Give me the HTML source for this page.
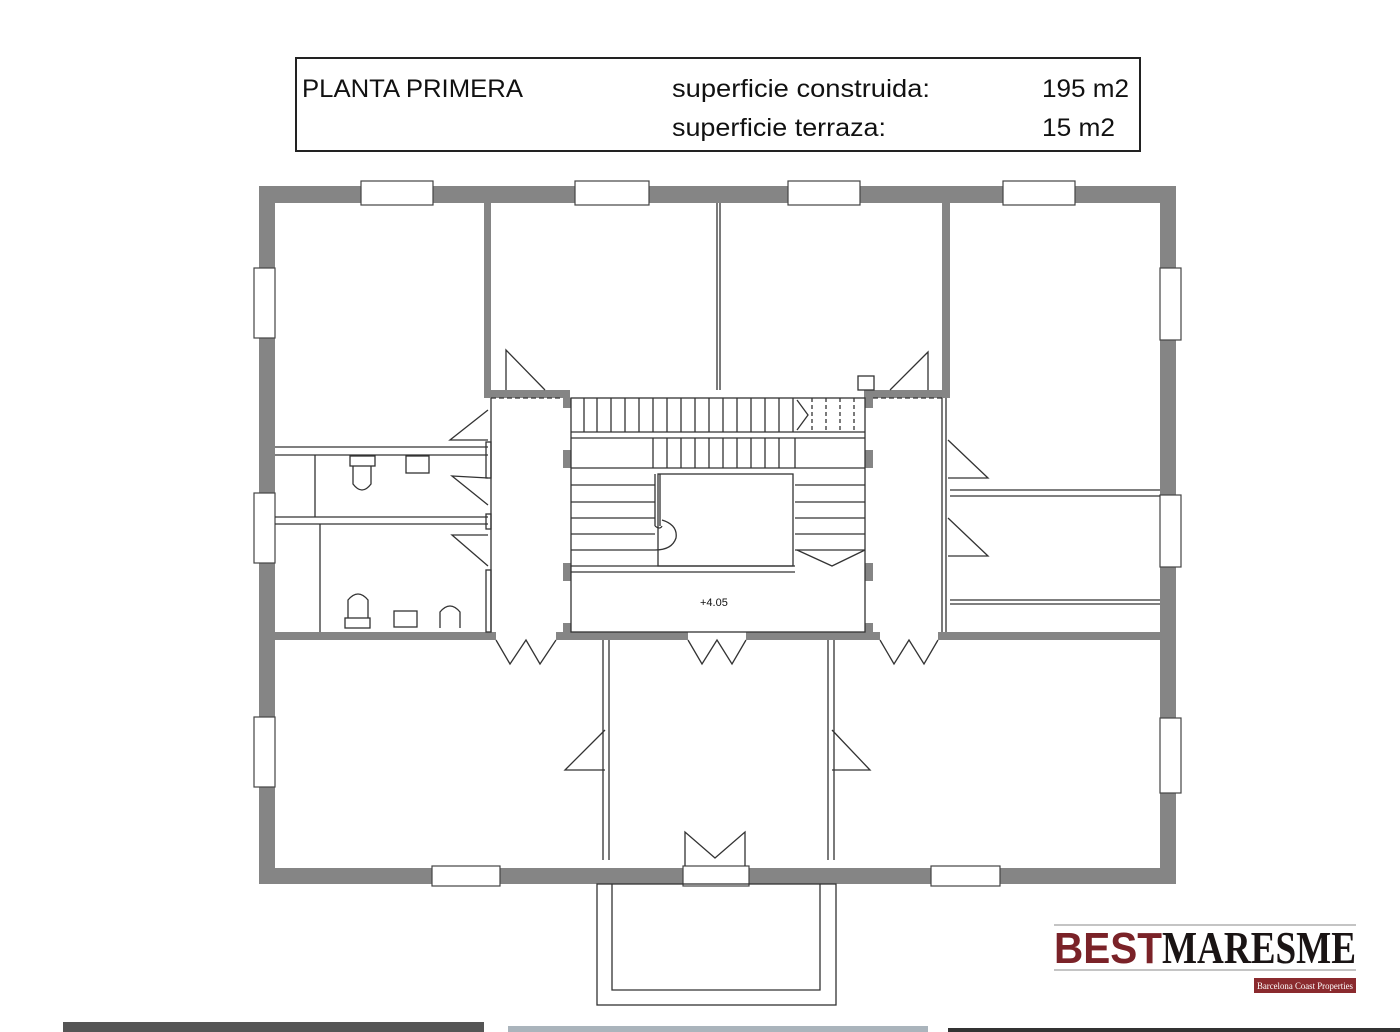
<!DOCTYPE html>
<html><head><meta charset="utf-8"><style>
body{margin:0;background:#fff;width:1400px;height:1032px;overflow:hidden;position:relative;font-family:"Liberation Sans",sans-serif}
</style></head><body>
<svg width="1400" height="1032" viewBox="0 0 1400 1032" xmlns="http://www.w3.org/2000/svg" style="position:absolute;left:0;top:0">
<rect x="296" y="58" width="844" height="93" fill="none" stroke="#222" stroke-width="2"/>
<g font-family="Liberation Sans, sans-serif" font-size="25" fill="#111" lengthAdjust="spacingAndGlyphs">
<text x="302" y="97" textLength="221" lengthAdjust="spacingAndGlyphs">PLANTA PRIMERA</text>
<text x="672" y="97" textLength="258" lengthAdjust="spacingAndGlyphs">superficie construida:</text>
<text x="1042" y="97" textLength="87" lengthAdjust="spacingAndGlyphs">195 m2</text>
<text x="672" y="136" textLength="214" lengthAdjust="spacingAndGlyphs">superficie terraza:</text>
<text x="1042" y="136" textLength="73" lengthAdjust="spacingAndGlyphs">15 m2</text>
</g>
<!-- outer walls -->
<g fill="#858585">
<rect x="259" y="186" width="917" height="17"/>
<rect x="259" y="868" width="917" height="16"/>
<rect x="259" y="186" width="16" height="698"/>
<rect x="1160" y="186" width="16" height="698"/>
<rect x="484" y="203" width="7" height="195"/>
<rect x="942" y="203" width="8" height="195"/>
<rect x="484" y="390" width="86" height="8"/>
<rect x="864" y="390" width="86" height="8"/>
<rect x="275" y="632" width="221" height="8"/>
<rect x="556" y="632" width="132" height="8"/>
<rect x="746" y="632" width="134" height="8"/>
<rect x="938" y="632" width="222" height="8"/>
<rect x="563" y="398" width="8" height="10"/>
<rect x="865" y="398" width="8" height="10"/>
<rect x="563" y="450" width="8" height="18"/>
<rect x="865" y="450" width="8" height="18"/>
<rect x="563" y="563" width="8" height="18"/>
<rect x="865" y="563" width="8" height="18"/>
<rect x="563" y="623" width="8" height="10"/>
<rect x="865" y="623" width="8" height="10"/>
</g>
<g fill="#fff" stroke="#444" stroke-width="1.2">
<rect x="361" y="181" width="72" height="24"/><rect x="575" y="181" width="74" height="24"/>
<rect x="788" y="181" width="72" height="24"/><rect x="1003" y="181" width="72" height="24"/>
<rect x="432" y="866" width="68" height="20"/><rect x="683" y="866" width="66" height="20"/><rect x="931" y="866" width="69" height="20"/>
<rect x="254" y="268" width="21" height="70"/><rect x="254" y="493" width="21" height="70"/><rect x="254" y="717" width="21" height="70"/>
<rect x="1160" y="268" width="21" height="72"/><rect x="1160" y="495" width="21" height="72"/><rect x="1160" y="718" width="21" height="75"/>
</g>
<g fill="none" stroke="#333" stroke-width="1.3">
<line x1="717" y1="203" x2="717" y2="390"/><line x1="720" y1="203" x2="720" y2="390"/>
<rect x="571" y="398" width="294" height="234"/>
<line x1="571" y1="432" x2="865" y2="432"/><line x1="571" y1="438" x2="865" y2="438"/>
<line x1="571" y1="468" x2="865" y2="468"/>
<line x1="571" y1="566" x2="795" y2="566"/><line x1="571" y1="572" x2="795" y2="572"/>
<rect x="658" y="474" width="135" height="92"/>
<path d="M655 474 V526 M660 474 V526 M655 526 Q660 530 662 526 M662 520 Q678 525 676 538 Q672 550 655 550 H571"/>
<path d="M571 485 H655 M571 502 H655 M571 518 H655 M571 534 H655 M795 485 H865 M795 502 H865 M795 518 H865 M795 534 H865 M795 550 H865"/>
<path d="M797 550 L832 566 L865 550"/>
<path d="M584 398 V432 M597 398V432 M611 398V432 M625 398V432 M639 398V432 M653 398V432 M667 398V432 M681 398V432 M695 398V432 M709 398V432 M723 398V432 M737 398V432 M751 398V432 M765 398V432 M779 398V432 M793 398V432"/>
<path d="M653 438V468 M667 438V468 M681 438V468 M695 438V468 M709 438V468 M723 438V468 M737 438V468 M751 438V468 M765 438V468 M779 438V468 M795 438V468"/>
<path d="M797 400 L808 415 L797 430" />
<path d="M812 398V432 M826 398V432 M840 398V432 M854 398V432" stroke-dasharray="4 3"/>
<line x1="491" y1="398" x2="491" y2="632"/><line x1="942" y1="398" x2="942" y2="632"/><line x1="946" y1="398" x2="946" y2="632"/>
<path d="M491 398 H563 M873 398 H942" stroke-dasharray="5 3"/>
<line x1="275" y1="447" x2="488" y2="447"/><line x1="275" y1="455" x2="488" y2="455"/>
<line x1="275" y1="517" x2="488" y2="517"/><line x1="275" y1="524" x2="488" y2="524"/>
<line x1="315" y1="455" x2="315" y2="517"/><line x1="320" y1="524" x2="320" y2="632"/>
<rect x="486" y="442" width="5" height="36"/><rect x="486" y="514" width="5" height="15"/><rect x="486" y="570" width="5" height="62"/>
<rect x="350" y="456" width="25" height="10"/><path d="M353 466 V484 Q362 496 371 484 V466"/>
<rect x="406" y="456" width="23" height="17"/>
<rect x="345" y="618" width="25" height="10"/><path d="M348 618 V600 Q358 588 368 600 V618"/>
<rect x="394" y="611" width="23" height="16"/>
<path d="M440 628 V612 Q450 600 460 612 V628"/>
<path d="M488 410 L450 440 H488 M488 478 L452 476 L488 505 M488 535 L452 535 L488 566"/>
<line x1="950" y1="490" x2="1160" y2="490"/><line x1="950" y1="496" x2="1160" y2="496"/>
<line x1="950" y1="600" x2="1160" y2="600"/><line x1="950" y1="604" x2="1160" y2="604"/>
<path d="M948 440 L988 478 H948 M948 518 L988 556 H948"/>
<path d="M506 390 V350 L545 390 M928 390 V352 L890 390"/>
<rect x="858" y="376" width="16" height="14"/>
<path d="M496 640 L510 664 L526 640 L540 664 L556 640 M688 640 L702 664 L717 640 L732 664 L746 640 M880 640 L894 664 L909 640 L924 664 L938 640"/>
<line x1="603" y1="640" x2="603" y2="860"/><line x1="609" y1="640" x2="609" y2="860"/>
<line x1="828" y1="640" x2="828" y2="860"/><line x1="834" y1="640" x2="834" y2="860"/>
<path d="M605 730 L565 770 H605 M832 730 L870 770 H832"/>
<path d="M685 866 V832 L715 858 L745 832 V866"/>
<rect x="597" y="884" width="239" height="121"/>
<path d="M612 884 V990 H820 V884"/>
</g>
<text x="700" y="606" font-family="Liberation Sans, sans-serif" font-size="11" fill="#111">+4.05</text>
<line x1="1054" y1="925" x2="1356" y2="925" stroke="#888" stroke-width="1"/>
<line x1="1054" y1="970" x2="1356" y2="970" stroke="#888" stroke-width="1"/>
<text x="1054" y="963" font-family="Liberation Sans, sans-serif" font-weight="bold" font-size="44" fill="#7a2228" textLength="108" lengthAdjust="spacingAndGlyphs">BEST</text>
<text x="1162" y="963" font-family="Liberation Serif, serif" font-weight="bold" font-size="46" fill="#1a1414" textLength="194" lengthAdjust="spacingAndGlyphs">MARESME</text>
<rect x="1254" y="978" width="102" height="15" fill="#8a2a2e"/>
<text x="1305" y="989" text-anchor="middle" font-family="Liberation Serif, serif" font-size="9" fill="#fff" textLength="96" lengthAdjust="spacingAndGlyphs">Barcelona Coast Properties</text>
<rect x="63" y="1022" width="421" height="10" fill="#555"/>
<rect x="508" y="1026" width="420" height="6" fill="#aab4bc"/>
<rect x="948" y="1028" width="452" height="4" fill="#333"/>
</svg>
</body></html>
